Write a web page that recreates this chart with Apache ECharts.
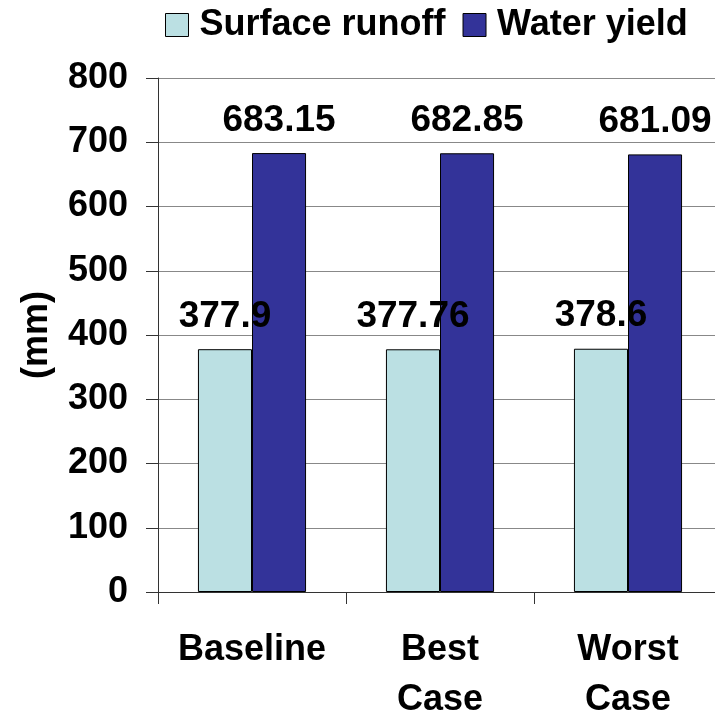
<!DOCTYPE html>
<html>
<head>
<meta charset="utf-8">
<script src="https://cdn.jsdelivr.net/npm/echarts@6/dist/echarts.min.js"></script>
<style>
  html, body { margin: 0; padding: 0; background: #fff; }
  #chart { width: 715px; height: 712px; }
</style>
</head>
<body>
<div id="chart"></div>
<script>
// Scenario categories along the x axis
const categories = ['Baseline', 'Best\nCase', 'Worst\nCase'];
// Annual values in mm for each scenario
const surfaceRunoff = [377.9, 377.76, 378.6];
const waterYield = [683.15, 682.85, 681.09];
const seriesNames = ['Surface runoff', 'Water yield'];
const yAxisName = '(mm)';

const FONT = '"Liberation Sans", Arial, sans-serif';

const chart = echarts.init(document.getElementById('chart'), null, { renderer: 'canvas' });

const labelStyle = {
  show: true,
  position: 'top',
  distance: 14,
  color: '#000',
  fontFamily: FONT,
  fontWeight: 'bold',
  fontSize: 37,
  formatter: p => String(p.value)
};

chart.setOption({
  animation: false,
  backgroundColor: '#fff',
  legend: {
    top: 2,
    left: 160,
    itemWidth: 23,
    itemHeight: 23,
    itemGap: 17,
    icon: 'rect',
    itemStyle: { borderColor: '#000', borderWidth: 1 },
    textStyle: {
      fontFamily: FONT,
      fontWeight: 'bold',
      fontSize: 36,
      color: '#000',
      padding: [0, 0, 0, 6]
    },
    data: seriesNames
  },
  grid: {
    left: 158,
    top: 78,
    right: -7,
    bottom: 120,
    containLabel: false,
    outerBoundsMode: 'none'
  },
  xAxis: {
    type: 'category',
    data: categories,
    axisLine: { lineStyle: { color: '#333', width: 1 } },
    axisTick: { show: true, length: 12, alignWithLabel: false, lineStyle: { color: '#333' } },
    axisLabel: {
      margin: 33,
      color: '#000',
      fontFamily: FONT,
      fontWeight: 'bold',
      fontSize: 36,
      lineHeight: 50,
      interval: 0
    },
    splitLine: { show: false }
  },
  yAxis: {
    type: 'value',
    min: 0,
    max: 800,
    interval: 100,
    name: yAxisName,
    nameLocation: 'middle',
    nameRotate: 90,
    nameGap: 103,
    nameTextStyle: {
      fontFamily: FONT,
      fontWeight: 'bold',
      fontSize: 36,
      color: '#000'
    },
    axisLine: { show: true, lineStyle: { color: '#333', width: 1 } },
    axisTick: { show: true, length: 12, lineStyle: { color: '#333' } },
    axisLabel: {
      margin: 30,
      color: '#000',
      fontFamily: FONT,
      fontWeight: 'bold',
      fontSize: 36
    },
    splitLine: { show: true, lineStyle: { color: '#888', width: 1 } }
  },
  series: [
    {
      name: seriesNames[0],
      type: 'bar',
      data: surfaceRunoff,
      barGap: '0%',
      barCategoryGap: '42.5%',
      itemStyle: { color: '#BBE0E3', borderColor: '#000', borderWidth: 1 },
      label: labelStyle
    },
    {
      name: seriesNames[1],
      type: 'bar',
      data: waterYield,
      barGap: '0%',
      barCategoryGap: '42.5%',
      itemStyle: { color: '#333399', borderColor: '#000', borderWidth: 1 },
      label: labelStyle
    }
  ]
});
</script>
</body>
</html>
